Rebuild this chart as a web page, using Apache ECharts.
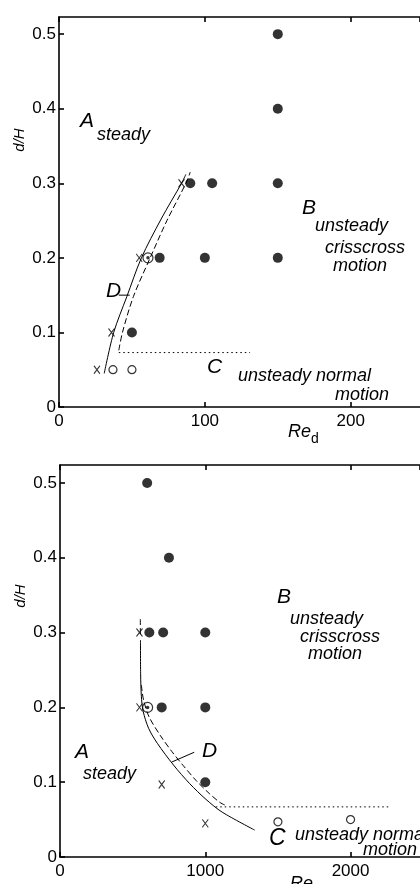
<!DOCTYPE html>
<html>
<head>
<meta charset="utf-8">
<script src="https://cdn.jsdelivr.net/npm/echarts@6/dist/echarts.min.js"></script>
<style>
  html, body { margin: 0; padding: 0; background: #fff; }
  #chart { width: 420px; height: 884px; }
</style>
</head>
<body>
<div id="chart"></div>
<script>
// top panel: Re_d vs d/H
const topFilled = [[150, 0.5], [150, 0.4], [90, 0.3], [105, 0.3], [150, 0.3], [69, 0.2], [100, 0.2], [150, 0.2], [50, 0.1]];
const topOpen = [[37, 0.05], [50, 0.05]];
const topCross = [[26, 0.05], [36, 0.1], [55, 0.2], [84, 0.3]];
const topDouble = [[61, 0.2]];
const topSolidD = [[31, 0.045], [37.5, 0.1], [46.5, 0.148], [56.5, 0.2], [70, 0.252], [84, 0.3], [87, 0.312]];
const topDashedD = [[41, 0.076], [43.5, 0.1], [51, 0.148], [62.5, 0.2], [74, 0.25], [87, 0.3], [90, 0.315]];
const topDottedC = [[41, 0.073], [131, 0.073]];
const topPointerD = [[41, 0.15], [48.5, 0.15]];

// bottom panel: Re vs d/H
const botFilled = [[600, 0.5], [750, 0.4], [615, 0.3], [710, 0.3], [1000, 0.3], [700, 0.2], [1000, 0.2], [1000, 0.1]];
const botOpen = [[1500, 0.047], [2000, 0.05]];
const botCross = [[547, 0.3], [547, 0.2], [700, 0.097], [1000, 0.045]];
const botDouble = [[603, 0.2]];
const botSolidD = [[554, 0.29], [555, 0.245], [560, 0.215], [572, 0.195], [610, 0.172], [670, 0.152], [781, 0.123], [893, 0.098], [1005, 0.077], [1116, 0.06], [1340, 0.036]];
const botDashedTop = [[553, 0.318], [553, 0.296]];
const botDashedD = [[560, 0.23], [575, 0.21], [614, 0.187], [692, 0.162], [770, 0.141], [849, 0.122], [938, 0.102], [1027, 0.085], [1100, 0.073], [1140, 0.069]];
const botDottedC = [[1072, 0.067], [2277, 0.067]];
const botPointerD = [[924, 0.14], [770, 0.127]];

const chart = echarts.init(document.getElementById('chart'));

const axisLine = { show: true, lineStyle: { color: '#000', width: 1.6 } };
const tickIn = { show: true, inside: true, length: 5, lineStyle: { color: '#000', width: 1.6 } };
const labelFont = { color: '#000', fontFamily: 'Liberation Sans', fontSize: 17 };

function xAxisPair(idx, max, step) {
  return [
    {
      gridIndex: idx, type: 'value', min: 0, max: max, interval: step,
      axisLine: axisLine, axisTick: tickIn, splitLine: { show: false },
      axisLabel: Object.assign({ margin: 6, showMaxLabel: false, formatter: v => String(v) }, labelFont)
    },
    {
      gridIndex: idx, type: 'value', position: 'top', min: 0, max: max, interval: step,
      axisLine: axisLine, axisTick: tickIn, splitLine: { show: false },
      axisLabel: { show: false }
    }
  ];
}

function yAxis(idx, max) {
  return {
    gridIndex: idx, type: 'value', min: 0, max: max, interval: 0.1,
    axisLine: axisLine, axisTick: tickIn, splitLine: { show: false },
    axisLabel: Object.assign({ margin: 3, showMaxLabel: false }, labelFont)
  };
}

function marks(idx, filled, open, cross, dbl, solid, dashedList, dotted, pointer) {
  const s = [];
  const ax = { xAxisIndex: idx * 2, yAxisIndex: idx };
  s.push(Object.assign({ type: 'line', data: solid, smooth: 0.3, symbol: 'none',
    lineStyle: { color: '#000', width: 1 } }, ax));
  dashedList.forEach(d => s.push(Object.assign({ type: 'line', data: d, smooth: 0.3, symbol: 'none',
    lineStyle: { color: '#000', width: 1, type: [6, 3] } }, ax)));
  s.push(Object.assign({ type: 'line', data: dotted, symbol: 'none',
    lineStyle: { color: '#000', width: 1, type: [1.5, 3] } }, ax));
  s.push(Object.assign({ type: 'line', data: pointer, symbol: 'none',
    lineStyle: { color: '#000', width: 1 } }, ax));
  s.push(Object.assign({ type: 'scatter', data: filled, symbol: 'circle', symbolSize: 10,
    itemStyle: { color: '#000' } }, ax));
  s.push(Object.assign({ type: 'scatter', data: open, symbol: 'circle', symbolSize: 8,
    itemStyle: { color: '#fff', borderColor: '#000', borderWidth: 1.2 } }, ax));
  s.push(Object.assign({ type: 'scatter', data: cross, symbol: 'path://M0,0L10,12M10,0L0,12',
    symbolSize: [6, 8], itemStyle: { color: 'none', borderColor: '#000', borderWidth: 1.1 } }, ax));
  s.push(Object.assign({ type: 'scatter', data: dbl, symbol: 'circle', symbolSize: 10,
    itemStyle: { color: '#fff', borderColor: '#000', borderWidth: 1.2 } }, ax));
  s.push(Object.assign({ type: 'scatter', data: dbl, symbol: 'circle', symbolSize: 3.5,
    itemStyle: { color: '#000' } }, ax));
  return s;
}

const it = 'italic 18px "Liberation Sans"';
const big = 'italic 21px "Liberation Sans"';
function txt(x, y, text, font, align) {
  return { type: 'text', x: x, y: y,
    style: { text: text, font: font, fill: '#000', align: align || 'left', verticalAlign: 'middle' } };
}

chart.setOption({
  animation: false,
  grid: [
    { left: 59, top: 17, width: 370, height: 390 },
    { left: 60, top: 465, width: 370, height: 392 }
  ],
  xAxis: [].concat(xAxisPair(0, 247.5, 100), xAxisPair(1, 2478, 1000)),
  yAxis: [yAxis(0, 0.523), yAxis(1, 0.524)],
  series: [].concat(
    marks(0, topFilled, topOpen, topCross, topDouble, topSolidD, [topDashedD], topDottedC, topPointerD),
    marks(1, botFilled, botOpen, botCross, botDouble, botSolidD, [botDashedTop, botDashedD], botDottedC, botPointerD)
  ),
  graphic: [
    // axis names
    { type: 'text', x: 20, y: 140, rotation: Math.PI / 2,
      style: { text: 'd/H', font: 'italic 15px "Liberation Sans"', fill: '#000', align: 'center', verticalAlign: 'middle' } },
    { type: 'text', x: 21, y: 596, rotation: Math.PI / 2,
      style: { text: 'd/H', font: 'italic 15px "Liberation Sans"', fill: '#000', align: 'center', verticalAlign: 'middle' } },
    txt(288, 432, 'Re', 'italic 18px "Liberation Sans"'),
    txt(311, 439, 'd', '14px "Liberation Sans"'),
    txt(290, 884, 'Re', 'italic 18px "Liberation Sans"'),
    // top panel regions
    txt(80, 121, 'A', big),
    txt(97, 135, 'steady', it),
    txt(302, 208, 'B', big),
    txt(315, 226, 'unsteady', it),
    txt(325, 248, 'crisscross', it),
    txt(333, 266, 'motion', it),
    txt(207, 367, 'C', big),
    txt(238, 376, 'unsteady normal', it),
    txt(335, 395, 'motion', it),
    txt(106, 291, 'D', big),
    // bottom panel regions
    txt(75, 752, 'A', big),
    txt(83, 774, 'steady', it),
    txt(277, 597, 'B', big),
    txt(290, 619, 'unsteady', it),
    txt(300, 637, 'crisscross', it),
    txt(308, 654, 'motion', it),
    txt(269, 839, 'C', 'italic 23px "Liberation Sans"'),
    txt(295, 835, 'unsteady normal', it),
    txt(363, 850, 'motion', it),
    txt(202, 751, 'D', big)
  ]
});
</script>
</body>
</html>
